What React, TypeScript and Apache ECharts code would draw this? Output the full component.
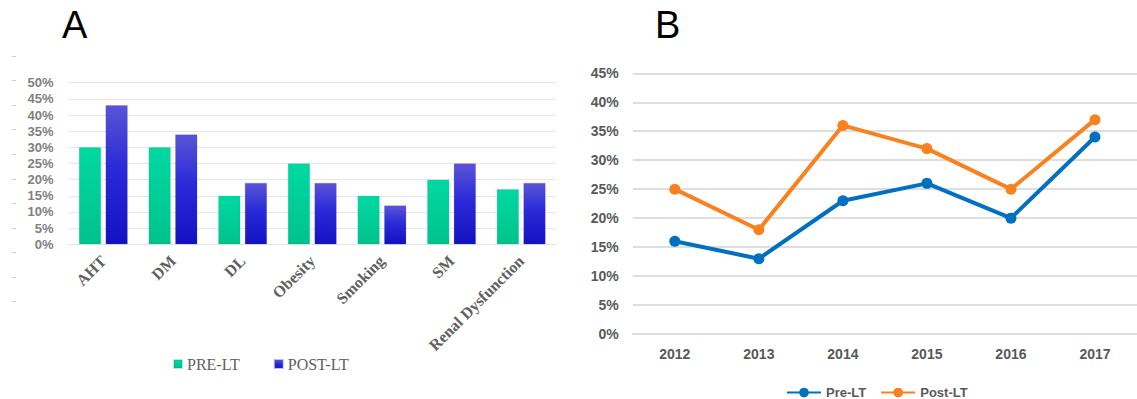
import React, { useEffect, useRef } from "react";
import * as echarts from "echarts";

const riskFactors = ["AHT", "DM", "DL", "Obesity", "Smoking", "SM", "Renal Dysfunction"];
const preLTFactors = [30, 30, 15, 25, 15, 20, 17];
const postLTFactors = [43, 34, 19, 19, 12, 25, 19];

const years = ["2012", "2013", "2014", "2015", "2016", "2017"];
const preLTYears = [16, 13, 23, 26, 20, 34];
const postLTYears = [25, 18, 36, 32, 25, 37];

const phantomTicks = [0, 10];

export default function App() {
  const ref = useRef<HTMLDivElement>(null);
  useEffect(() => {
    if (!ref.current) return;
    const chart = echarts.init(ref.current, undefined, { renderer: "svg" });
    const greenGrad = new echarts.graphic.LinearGradient(0, 0, 0, 1, [
      { offset: 0, color: "#00d9a2" },
      { offset: 1, color: "#00c28c" },
    ]);
    const blueGrad = new echarts.graphic.LinearGradient(0, 0, 0, 1, [
      { offset: 0, color: "#5a55d6" },
      { offset: 0.45, color: "#2a2ad8" },
      { offset: 1, color: "#1212c2" },
    ]);
    const option: any = {
      animation: false,
      backgroundColor: "#ffffff",
      title: [
        { text: "A", left: 62, top: 6, padding: 0, textStyle: { fontSize: 38, fontWeight: "normal", color: "#000", fontFamily: "Liberation Sans" } },
        { text: "B", left: 655, top: 6, padding: 0, textStyle: { fontSize: 38, fontWeight: "normal", color: "#000", fontFamily: "Liberation Sans" } },
      ],
      legend: [
        {
          data: ["PRE-LT", "POST-LT"],
          left: 168,
          top: 351,
          icon: "rect",
          itemWidth: 8,
          itemHeight: 8,
          itemGap: 34,
          textStyle: { fontFamily: "Liberation Serif", fontSize: 16, color: "#5f5f5f" },
        },
        {
          data: ["Pre-LT", "Post-LT"],
          left: 781,
          top: 381,
          itemWidth: 34,
          itemHeight: 12,
          itemGap: 14,
          textStyle: { fontFamily: "Liberation Sans", fontSize: 13, fontWeight: "bold", color: "#595959" },
        },
      ],
      grid: [
        { left: 68.5, right: 581, top: 82.7, bottom: 154.7 },
        { left: 632.8, right: -2.5, top: 73.3, bottom: 65 },
        { left: 16, top: 56, height: 245.7, width: 1 },
      ],
      xAxis: [
        {
          type: "category",
          gridIndex: 0,
          data: riskFactors,
          axisTick: { show: false },
          axisLine: { lineStyle: { color: "#e6e6e6" } },
          axisLabel: {
            interval: 0,
            rotate: 45,
            margin: 14,
            fontFamily: "Liberation Serif",
            fontWeight: "bold",
            fontSize: 16,
            color: "#606060",
          },
        },
        {
          type: "category",
          gridIndex: 1,
          data: years,
          axisTick: { show: false },
          axisLine: { lineStyle: { color: "#dedede", width: 2 } },
          axisLabel: { margin: 13, fontFamily: "Liberation Sans", fontWeight: "bold", fontSize: 14, color: "#595959" },
        },
        { type: "value", gridIndex: 2, show: false },
      ],
      yAxis: [
        {
          type: "value",
          gridIndex: 0,
          min: 0,
          max: 50,
          interval: 5,
          axisLine: { show: false },
          axisTick: { show: false },
          splitLine: { lineStyle: { color: "#e6e6e6" } },
          axisLabel: { formatter: "{value}%", margin: 15, fontFamily: "Liberation Sans", fontWeight: "bold", fontSize: 13, color: "#7f7f7f" },
        },
        {
          type: "value",
          gridIndex: 1,
          min: 0,
          max: 45,
          interval: 5,
          axisLine: { show: false },
          axisTick: { show: false },
          splitLine: { lineStyle: { color: "#dedede", width: 2 } },
          axisLabel: { formatter: "{value}%", margin: 14, fontFamily: "Liberation Sans", fontWeight: "bold", fontSize: 14, color: "#595959" },
        },
        {
          type: "value",
          gridIndex: 2,
          min: phantomTicks[0],
          max: phantomTicks[1],
          interval: 1,
          axisLine: { show: false },
          axisLabel: { show: false },
          splitLine: { show: false },
          axisTick: { show: true, length: 4, lineStyle: { color: "#cfcfcf" } },
        },
      ],
      series: [
        {
          name: "PRE-LT",
          type: "bar",
          xAxisIndex: 0,
          yAxisIndex: 0,
          data: preLTFactors,
          barWidth: 22,
          barGap: "21%",
          itemStyle: { color: greenGrad, borderColor: "rgba(0,150,110,0.25)", borderWidth: 0.5 },
        },
        {
          name: "POST-LT",
          type: "bar",
          xAxisIndex: 0,
          yAxisIndex: 0,
          data: postLTFactors,
          barWidth: 22,
          barGap: "21%",
          itemStyle: { color: blueGrad, borderColor: "rgba(60,60,200,0.35)", borderWidth: 0.5 },
        },
        {
          name: "Pre-LT",
          type: "line",
          xAxisIndex: 1,
          yAxisIndex: 1,
          data: preLTYears,
          symbol: "circle",
          symbolSize: 11,
          lineStyle: { color: "#0070c0", width: 4 },
          itemStyle: { color: "#0070c0" },
        },
        {
          name: "Post-LT",
          type: "line",
          xAxisIndex: 1,
          yAxisIndex: 1,
          data: postLTYears,
          symbol: "circle",
          symbolSize: 11,
          lineStyle: { color: "#f7821f", width: 4 },
          itemStyle: { color: "#f7821f" },
        },
      ],
    };
    chart.setOption(option);
    return () => chart.dispose();
  }, []);
  return (
    <div
      ref={ref}
      style={{ position: "fixed", left: 0, top: 0, width: 1137, height: 399, background: "#fff" }}
    />
  );
}
